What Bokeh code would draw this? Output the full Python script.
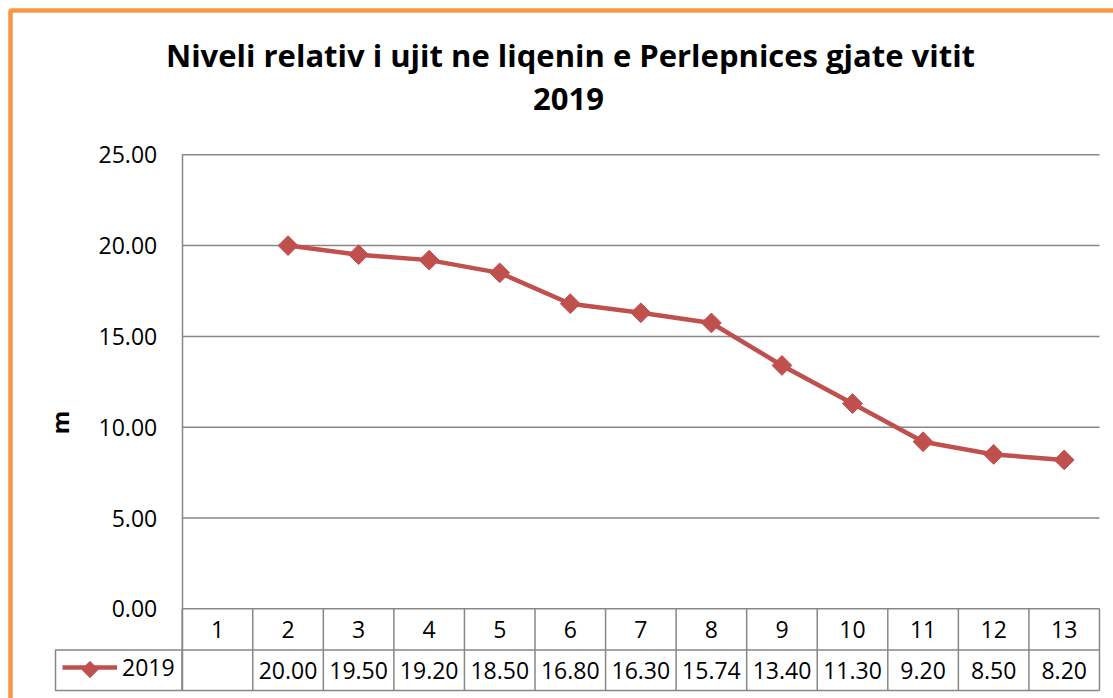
import math
from bokeh.plotting import figure
from bokeh.models import (Range1d, FixedTicker, NumeralTickFormatter, BoxAnnotation,
                          Label, Legend, LegendItem)
from bokeh.embed import file_html
from bokeh.resources import INLINE
from bokeh.core.properties import value

# ---------------- data ----------------
title_line1 = "Niveli relativ i ujit ne liqenin e Perlepnices gjate vitit"
title_line2 = "2019"
series_name = "2019"
y_label = "m"
categories = ["1", "2", "3", "4", "5", "6", "7", "8", "9", "10", "11", "12", "13"]
levels = [None, 20.00, 19.50, 19.20, 18.50, 16.80, 16.30, 15.74, 13.40, 11.30, 9.20, 8.50, 8.20]
y_ticks = [0, 5, 10, 15, 20, 25]

# ---------------- layout / style ----------------
FONT = "Open Sans"
RED = "#C0504D"
GRID = "#878787"
ORANGE = "#F79646"
W, H = 1113, 698

# pixel geometry of the plot area (used to set the ranges)
LEFT_PX, CAT_PX = 181.7, 70.56      # left edge of category 1, width of a category
ZERO_PX, UNIT_PX = 608.3, 18.16     # pixel row of y=0, pixels per metre


def px2x(px):
    return 0.5 + (px - LEFT_PX) / CAT_PX


def px2y(py):
    return (ZERO_PX - py) / UNIT_PX


n = len(categories)
xs = [i + 1 for i in range(n)]
px_x = [x for x, v in zip(xs, levels) if v is not None]
py = [v for v in levels if v is not None]

row_sep = px2y(649.5)
tbl_bottom = px2y(690)
row1_mid = (0 + row_sep) / 2
row2_mid = (row_sep + tbl_bottom) / 2
x_last = 0.5 + n

p = figure(width=W, height=H, output_backend="svg", toolbar_location=None,
           x_range=Range1d(px2x(0), px2x(W)), y_range=Range1d(px2y(H), px2y(0)),
           x_axis_location=None, title=None,
           min_border_left=0, min_border_right=0, min_border_top=0, min_border_bottom=0)
p.outline_line_color = None
p.background_fill_color = "white"
p.border_fill_color = "white"
p.xgrid.visible = False
p.ygrid.visible = False

# chart border (orange)
p.quad(left=[px2x(10)], right=[px2x(W + 50)], top=[px2y(10)], bottom=[px2y(H + 50)],
       fill_alpha=0, line_color=ORANGE, line_width=4.5)

ax = p.yaxis[0]
ax.fixed_location = 0.5
ax.bounds = (tbl_bottom, max(y_ticks))
ax.ticker = FixedTicker(ticks=y_ticks)
ax.formatter = NumeralTickFormatter(format="0.00")
ax.major_tick_line_color = None
ax.minor_tick_line_color = None
ax.major_tick_in = 0
ax.major_tick_out = 0
ax.major_label_standoff = 25
ax.axis_line_color = GRID
ax.axis_line_width = 1.5
ax.major_label_text_font = FONT
ax.major_label_text_font_size = "23px"
ax.major_label_text_color = "black"
ax.axis_label = y_label
ax.axis_label_text_font = FONT
ax.axis_label_text_font_style = "bold"
ax.axis_label_text_font_size = "24px"
ax.axis_label_text_color = "black"
ax.axis_label_standoff = 20

# horizontal grid lines (plot area only)
p.segment(x0=[0.5] * len(y_ticks), y0=y_ticks, x1=[x_last] * len(y_ticks), y1=y_ticks,
          line_color=GRID, line_width=1.5)

# data table lines
edges = [0.5 + i for i in range(n + 1)]
p.segment(x0=edges, y0=[0] * len(edges), x1=edges, y1=[tbl_bottom] * len(edges),
          line_color=GRID, line_width=1.5)
p.segment(x0=[0.5, 0.5], y0=[row_sep, tbl_bottom], x1=[x_last, x_last],
          y1=[row_sep, tbl_bottom], line_color=GRID, line_width=1.5)
p.add_layout(BoxAnnotation(left=px2x(55), right=0.5, top=row_sep, bottom=tbl_bottom,
                           fill_alpha=0, line_color=GRID, line_alpha=1, line_width=1.5))

p.text(x=xs, y=[row1_mid] * n, text=categories, text_align="center", text_baseline="middle",
       text_font=value(FONT), text_font_size="23px", text_color="black")
p.text(x=px_x, y=[row2_mid] * len(px_x), text=[f"{v:.2f}" for v in py],
       text_align="center", text_baseline="middle",
       text_font=value(FONT), text_font_size="23px", text_color="black")

# series
line_r = p.line(px_x, py, line_color=RED, line_width=4.5, line_join="round")
sc_r = p.scatter(px_x, py, marker="square", size=14, angle=math.pi / 4,
                 fill_color=RED, line_color=RED)

# legend key (line + label from Legend, diamond key drawn on top of it)
legend = Legend(items=[LegendItem(label=series_name, renderers=[line_r])],
                location=(62, H - 683), padding=0, margin=0, border_line_alpha=0,
                background_fill_alpha=0, glyph_width=55, glyph_height=28,
                label_standoff=5, label_text_font=FONT, label_text_font_size="23px",
                label_text_color="black", label_height=28)
p.add_layout(legend)
p.scatter(x=[px2x(89.5)], y=[px2y(669)], marker="square", size=11.5, angle=math.pi / 4,
          fill_color=RED, line_color=RED, level="overlay")

# title
p.add_layout(Label(x=px2x(570), y=px2y(54), text=title_line1,
                   text_align="center", text_baseline="middle", text_font=FONT,
                   text_font_style="bold", text_font_size="31px", text_color="black"))
p.add_layout(Label(x=px2x(568), y=px2y(98), text=title_line2,
                   text_align="center", text_baseline="middle", text_font=FONT,
                   text_font_style="bold", text_font_size="31px", text_color="black"))

open("out.html", "w").write(file_html(p, INLINE))
